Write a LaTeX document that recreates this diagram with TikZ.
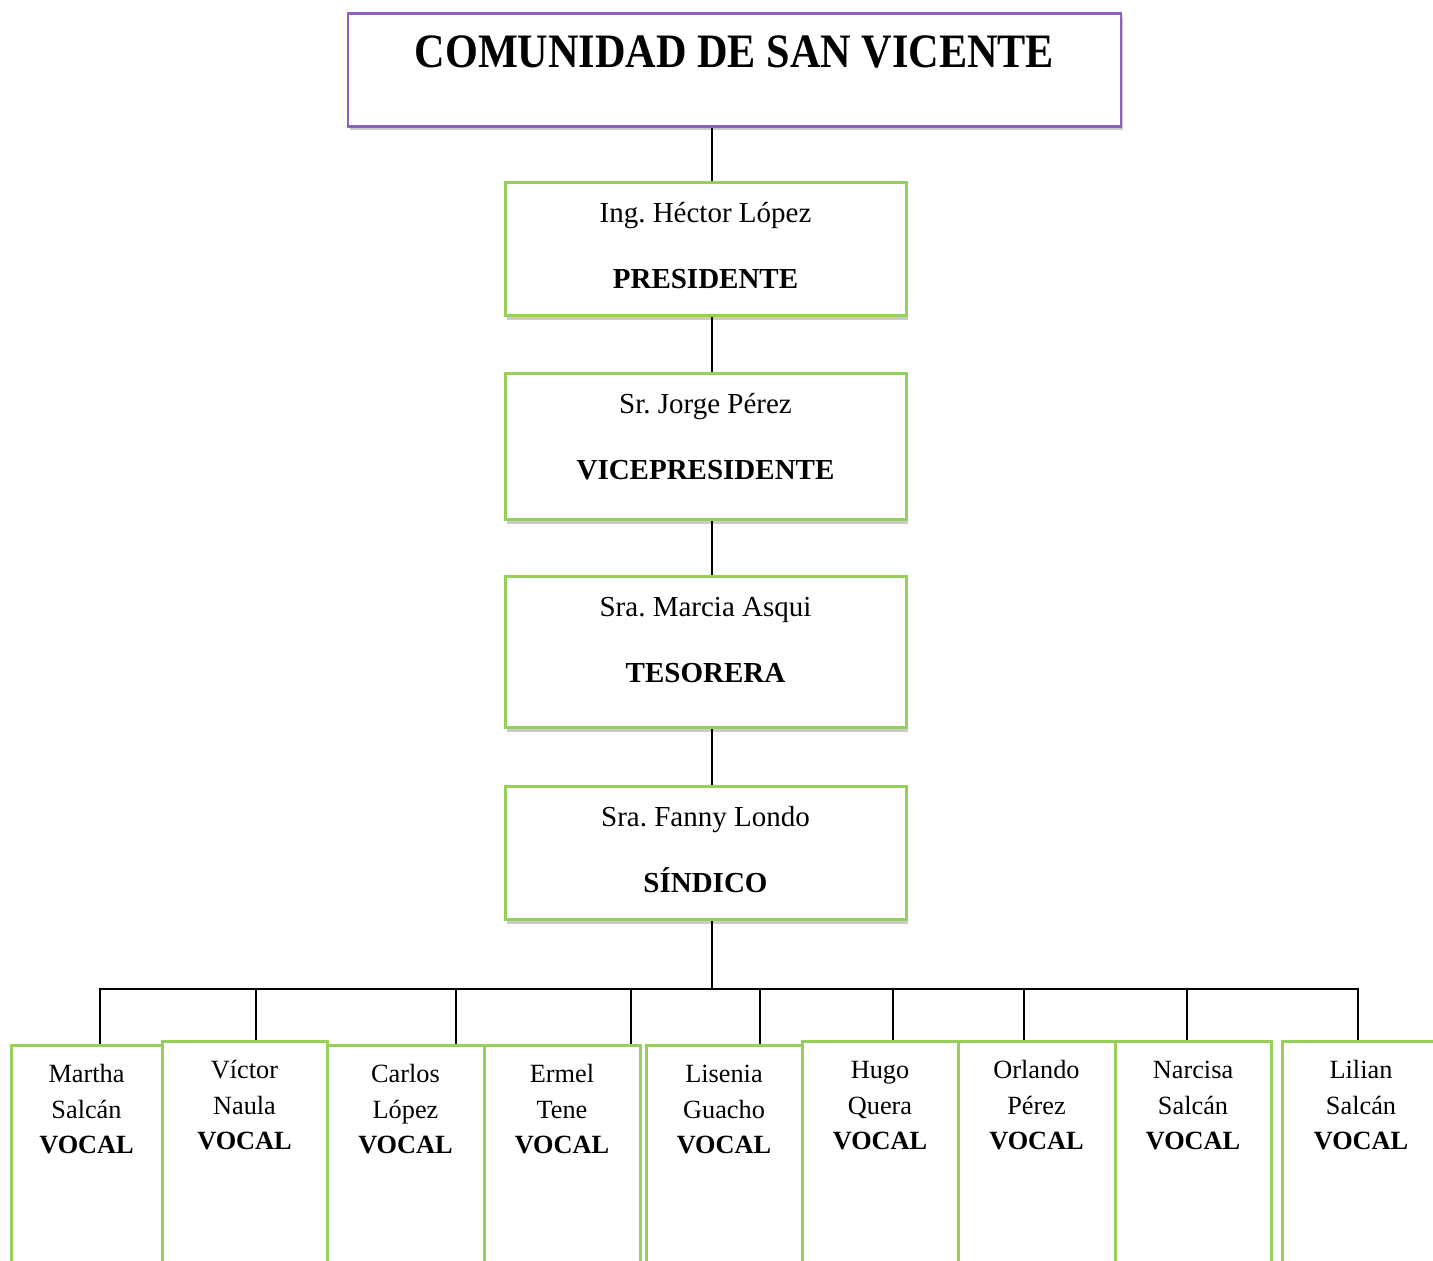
\documentclass[tikz,border=0pt]{standalone}
\usepackage{fontspec}
\setmainfont{Liberation Serif}
\newfontfamily\titlefont[FakeStretch=0.88]{Liberation Serif}
\usetikzlibrary{shadows}
\frenchspacing

\newdimen\px \px=0.5pt
\definecolor{BordeVerde}{RGB}{150,208,90}
\definecolor{BordeMorado}{RGB}{142,98,196}

\tikzstyle{Sombra} = [drop shadow={shadow xshift=1pt,shadow yshift=-2pt,opacity=0.35,fill=black!60}]
\tikzstyle{CajaTitulo} = [draw=BordeMorado,line width=2.5\px,fill=white,inner sep=0pt,anchor=north,Sombra]
\tikzstyle{CajaCargo} = [draw=BordeVerde,line width=3\px,fill=white,inner sep=0pt,anchor=north,Sombra]
\tikzstyle{CajaVocal} = [CajaCargo]
\tikzstyle{Linea} = [line width=2\px,color=black]

\newcommand{\cargo}[4]{\parbox[t][#1\px][t]{#2\px}{\centering\fontsize{14.5pt}{16.5pt}\selectfont
  \rule{0pt}{40\px}#3\\[16.5pt]\textbf{#4}}}
\newcommand{\vocal}[3]{\parbox[t][230\px][t]{#1\px}{\centering\fontsize{13.15pt}{17.75pt}\selectfont
  \rule{0pt}{37\px}#2\\#3\\\textbf{VOCAL}}}

\begin{document}
\begin{tikzpicture}[x=0.5pt,y=-0.5pt]
\useasboundingbox (0,0) rectangle (1433,1260);
\clip (0,0) rectangle (1433,1260);

\node[CajaTitulo] (titulo) at (734.5,12) {\parbox[t][113\px][t]{773\px}{\centering\titlefont\bfseries\fontsize{24pt}{28pt}\selectfont
  \rule{0pt}{54\px}COMUNIDAD DE SAN VICENTE}};

\node[CajaCargo] (pres) at (705.5,181) {\cargo{133}{401}{Ing. Héctor López}{PRESIDENTE}};
\node[CajaCargo] (vice) at (705.5,372) {\cargo{146}{401}{Sr. Jorge Pérez}{VICEPRESIDENTE}};
\node[CajaCargo] (teso) at (705.5,575) {\cargo{151}{401}{Sra. Marcia Asqui}{TESORERA}};
\node[CajaCargo] (sind) at (705.5,785) {\cargo{133}{401}{Sra. Fanny Londo}{SÍNDICO}};


\node[CajaVocal] (v1) at (86.5,1044) {\vocal{151}{Martha}{Salcán}};
\node[CajaVocal] (v2) at (244.5,1040) {\vocal{165}{Víctor}{Naula}};
\node[CajaVocal] (v3) at (405.5,1044) {\vocal{157}{Carlos}{López}};
\node[CajaVocal] (v4) at (562,1044) {\vocal{156}{Ermel}{Tene}};
\node[CajaVocal] (v5) at (724,1044) {\vocal{156}{Lisenia}{Guacho}};
\node[CajaVocal] (v6) at (880,1040) {\vocal{156}{Hugo}{Quera}};
\node[CajaVocal] (v7) at (1036.5,1040) {\vocal{157}{Orlando}{Pérez}};
\node[CajaVocal] (v8) at (1193,1040) {\vocal{156}{Narcisa}{Salcán}};
\node[CajaVocal] (v9) at (1361,1040) {\vocal{158}{Lilian}{Salcán}};


\coordinate (eje) at (712,0);
\draw[Linea] (titulo.south -| eje) -- (pres.north -| eje);
\draw[Linea] (pres.south -| eje) -- (vice.north -| eje);
\draw[Linea] (vice.south -| eje) -- (teso.north -| eje);
\draw[Linea] (teso.south -| eje) -- (sind.north -| eje);

\coordinate (bus) at (712,989);
\draw[Linea] (sind.south -| eje) -- (bus);

\coordinate (b1) at (100,989);
\coordinate (b2) at (256,989);
\coordinate (b3) at (456,989);
\coordinate (b4) at (631,989);
\coordinate (b5) at (760,989);
\coordinate (b6) at (893,989);
\coordinate (b7) at (1024,989);
\coordinate (b8) at (1187,989);
\coordinate (b9) at (1358,989);

\draw[Linea] (b1 |- v1.north) -- (b1) -- (b9) -- (b9 |- v9.north);
\draw[Linea] (b2) -- (b2 |- v2.north);
\draw[Linea] (b3) -- (b3 |- v3.north);
\draw[Linea] (b4) -- (b4 |- v4.north);
\draw[Linea] (b5) -- (b5 |- v5.north);
\draw[Linea] (b6) -- (b6 |- v6.north);
\draw[Linea] (b7) -- (b7 |- v7.north);
\draw[Linea] (b8) -- (b8 |- v8.north);

\end{tikzpicture}
\end{document}
